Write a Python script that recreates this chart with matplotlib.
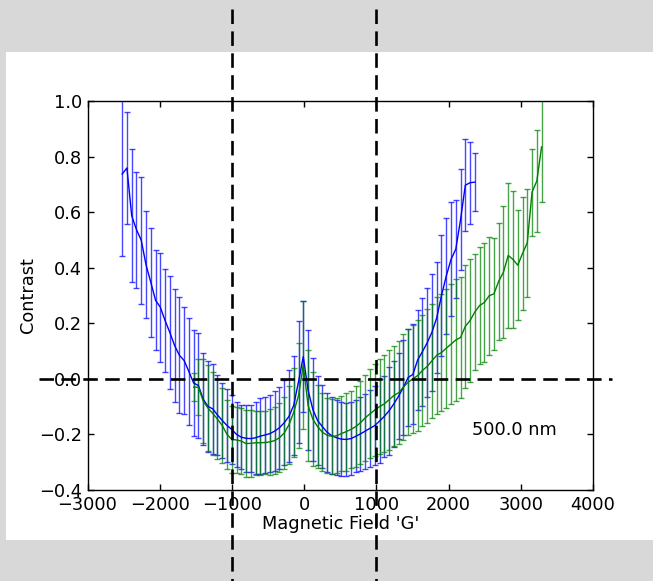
import matplotlib
matplotlib.use("Agg")
import matplotlib.pyplot as plt
from matplotlib.colors import to_rgba
from matplotlib.patches import Rectangle

# ---- data -----------------------------------------------------------------
blue_field = [-2520 + 66 * i for i in range(75)]
blue_contrast = [
    0.737, 0.759, 0.587, 0.537, 0.499, 0.411, 0.348, 0.283, 0.258, 0.210,
    0.167, 0.120, 0.085, 0.066, 0.026, -0.015, -0.024, -0.073, -0.099, -0.108,
    -0.130, -0.150, -0.168, -0.182, -0.200, -0.210, -0.214, -0.215, -0.212, -0.206,
    -0.202, -0.197, -0.188, -0.176, -0.158, -0.135, -0.095, -0.010, 0.080, -0.040,
    -0.110, -0.150, -0.172, -0.192, -0.205, -0.212, -0.217, -0.218, -0.215, -0.207,
    -0.198, -0.188, -0.178, -0.168, -0.152, -0.135, -0.115, -0.090, -0.062, -0.031,
    0.005, 0.016, 0.068, 0.098, 0.130, 0.168, 0.220, 0.300, 0.370, 0.430,
    0.467, 0.573, 0.697, 0.706, 0.708,
]
blue_err = [
    0.294, 0.200, 0.240, 0.209, 0.228, 0.193, 0.196, 0.179, 0.196, 0.187,
    0.203, 0.205, 0.209, 0.194, 0.192, 0.190, 0.190, 0.166, 0.164, 0.162,
    0.144, 0.135, 0.130, 0.123, 0.118, 0.116, 0.120, 0.122, 0.130, 0.136,
    0.138, 0.138, 0.145, 0.148, 0.153, 0.166, 0.178, 0.220, 0.200, 0.215,
    0.185, 0.160, 0.150, 0.142, 0.138, 0.135, 0.132, 0.130, 0.130, 0.130,
    0.132, 0.135, 0.138, 0.141, 0.150, 0.145, 0.159, 0.156, 0.156, 0.171,
    0.174, 0.180, 0.180, 0.194, 0.196, 0.211, 0.200, 0.217, 0.210, 0.205,
    0.177, 0.182, 0.165, 0.147, 0.104,
]

green_field = [-1530 + 66 * i for i in range(74)]
green_contrast = [
    -0.030, -0.030, -0.080, -0.105, -0.124, -0.145, -0.168, -0.200, -0.218, -0.220,
    -0.224, -0.233, -0.232, -0.230, -0.230, -0.229, -0.227, -0.222, -0.212, -0.195,
    -0.165, -0.120, -0.060, 0.050, -0.095, -0.145, -0.172, -0.192, -0.203, -0.207,
    -0.205, -0.197, -0.190, -0.182, -0.172, -0.158, -0.140, -0.126, -0.112, -0.100,
    -0.090, -0.075, -0.060, -0.050, -0.030, -0.012, 0.000, 0.012, 0.030, 0.045,
    0.065, 0.085, 0.095, 0.110, 0.125, 0.140, 0.149, 0.189, 0.210, 0.241,
    0.264, 0.275, 0.299, 0.306, 0.351, 0.384, 0.444, 0.430, 0.409, 0.451,
    0.490, 0.672, 0.712, 0.835,
]
green_err = [
    0.050, 0.100, 0.150, 0.155, 0.150, 0.145, 0.135, 0.125, 0.120, 0.120,
    0.120, 0.120, 0.120, 0.115, 0.115, 0.115, 0.120, 0.120, 0.125, 0.130,
    0.140, 0.160, 0.190, 0.230, 0.200, 0.170, 0.150, 0.140, 0.135, 0.135,
    0.135, 0.135, 0.140, 0.140, 0.145, 0.150, 0.155, 0.160, 0.165, 0.170,
    0.175, 0.180, 0.180, 0.185, 0.190, 0.190, 0.195, 0.200, 0.200, 0.205,
    0.205, 0.210, 0.210, 0.215, 0.215, 0.218, 0.219, 0.221, 0.220, 0.210,
    0.212, 0.213, 0.213, 0.202, 0.211, 0.238, 0.262, 0.246, 0.198, 0.204,
    0.195, 0.157, 0.183, 0.200,
]

x_ticks = [-3000, -2000, -1000, 0, 1000, 2000, 3000, 4000]
y_ticks = [-0.4, -0.2, 0.0, 0.2, 0.4, 0.6, 0.8, 1.0]
guide_fields = [-1000, 1000]
wavelength_label = "500.0 nm"

# ---- figure ---------------------------------------------------------------
W, H = 653, 581
fig = plt.figure(figsize=(W / 100, H / 100), dpi=100, facecolor="#d8d8d8")
panel = Rectangle((6 / W, 41 / H), 1.0, 488 / H, transform=fig.transFigure,
                  facecolor="white", edgecolor="none", zorder=-10)
fig.add_artist(panel)

ax = fig.add_axes([87.5 / W, 91 / H, 505.5 / W, 389 / H])
ax.set_zorder(1)
ax.set_facecolor("white")

fs = 12.8
for xs, ys, es, col in [(blue_field, blue_contrast, blue_err, "#0000ff"),
                        (green_field, green_contrast, green_err, "#008000")]:
    ax.errorbar(xs, ys, yerr=es, color=col, lw=1.0, elinewidth=1.0,
                ecolor=to_rgba(col, 0.72), capsize=2.3, capthick=1.0)

dash = (0, (5.5, 2.8))
for gx in guide_fields:
    ax.plot([gx, gx], [1.33, -1.0], color="black", lw=1.9, ls=dash,
            clip_on=False, zorder=6)
ax.plot([-3670, 4270], [0, 0], color="black", lw=1.9, ls=dash,
        clip_on=False, zorder=6)

ax.set_xlim(-3000, 4000)
ax.set_ylim(-0.4, 1.0)
ax.set_xticks(x_ticks)
ax.set_yticks(y_ticks)
ax.tick_params(direction="in", top=True, right=True, length=4.5, width=1,
               labelsize=fs, pad=4)
for s in ax.spines.values():
    s.set_linewidth(1.0)

ax.set_xlabel("Magnetic Field 'G'", fontsize=fs, labelpad=1)
ax.set_ylabel("Contrast", fontsize=fs, labelpad=1.5)
ax.text(0.76, 0.155, wavelength_label, transform=ax.transAxes,
        fontsize=fs, va="center", ha="left")

fig.savefig("out.png", dpi=100, facecolor=fig.get_facecolor())
